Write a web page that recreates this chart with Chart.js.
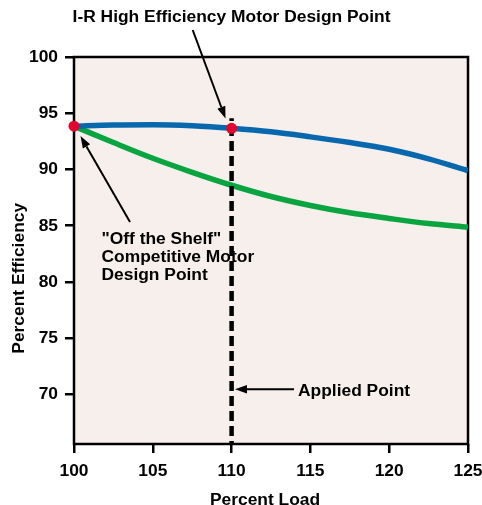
<!DOCTYPE html>
<html>
<head>
<meta charset="utf-8">
<script src="https://cdn.jsdelivr.net/npm/chart.js@4"></script>
<style>
html,body{margin:0;padding:0;background:#fff;}
#wrap{width:482px;height:505px;position:relative;}
</style>
</head>
<body>
<div id="wrap"><canvas id="c" width="482" height="505"></canvas></div>
<script>
// ---- data ----
const loads      = [100, 102.5, 105, 107.5, 110, 112.5, 115, 117.5, 120, 122.5, 125];
const irEff      = [93.85, 93.95, 93.97, 93.88, 93.66, 93.35, 92.9, 92.4, 91.8, 90.95, 89.9];
const shelfEff   = [93.85, 92.4, 91.0, 89.75, 88.6, 87.6, 86.8, 86.15, 85.65, 85.2, 84.88];
const designLoads = [100, 110];
const designEff   = [93.85, 93.66];
const appliedLoad = 110;
const appliedSpan = [94.55, 65.6];
const xTicks = [100, 105, 110, 115, 120, 125];
const yTicks = [70, 75, 80, 85, 90, 95, 100];
const yMin = 65.6, yMax = 100;

const FAMILY = '"Liberation Sans", Arial, sans-serif';
const FSIZE = 17.4;
const FONT = 'bold ' + FSIZE + 'px ' + FAMILY;

function pts(xs, ys){ return xs.map((x,i)=>({x:x, y:ys[i]})); }

function arrow(ctx, x1, y1, x2, y2){
  const ang = Math.atan2(y2-y1, x2-x1);
  const hl = 12, hw = 4.2;
  const bx = x2 - hl*Math.cos(ang), by = y2 - hl*Math.sin(ang);
  ctx.beginPath();
  ctx.moveTo(x1,y1); ctx.lineTo(bx,by);
  ctx.lineWidth = 2; ctx.strokeStyle = '#000'; ctx.stroke();
  ctx.beginPath();
  ctx.moveTo(x2,y2);
  ctx.lineTo(bx + hw*Math.sin(ang), by - hw*Math.cos(ang));
  ctx.lineTo(bx - hw*Math.sin(ang), by + hw*Math.cos(ang));
  ctx.closePath(); ctx.fillStyle = '#000'; ctx.fill();
}

const bgPlugin = {
  id:'bg',
  beforeDatasetsDraw(chart){
    const {ctx, chartArea:a} = chart;
    ctx.save();
    ctx.fillStyle = '#f6efec';
    ctx.fillRect(a.left, a.top, a.right-a.left, a.bottom-a.top);
    ctx.lineWidth = 2.5; ctx.strokeStyle = '#000';
    ctx.strokeRect(a.left, a.top, a.right-a.left, a.bottom-a.top);
    ctx.restore();
  },
  afterDraw(chart){
    const ctx = chart.ctx;
    ctx.save();
    ctx.fillStyle = '#000';
    ctx.font = FONT;
    ctx.textBaseline = 'alphabetic';
    ctx.textAlign = 'center';
    ctx.fillText('I-R High Efficiency Motor Design Point', 231.5, 21.5);
    ctx.fillText('Percent Load', 265, 505);
    ctx.textAlign = 'left';
    ctx.fillText('"Off the Shelf"', 101.5, 243.5);
    ctx.fillText('Competitive Motor', 101.5, 261.5);
    ctx.fillText('Design Point', 101.5, 279.5);
    ctx.fillText('Applied Point', 298, 395.5);
    ctx.save();
    ctx.translate(23.5, 278.3);
    ctx.rotate(-Math.PI/2);
    ctx.textAlign = 'center';
    ctx.fillText('Percent Efficiency', 0, 0);
    ctx.restore();
    arrow(ctx, 192.7, 30, 225.5, 118.5);
    arrow(ctx, 130, 222, 80.5, 136);
    arrow(ctx, 294, 389.3, 235, 389.3);
    ctx.restore();
  }
};

new Chart(document.getElementById('c'), {
  type:'scatter',
  data:{
    datasets:[
      { data: pts(designLoads, designEff), showLine:false, pointRadius:5.5,
        pointBackgroundColor:'#e2062f', pointBorderWidth:0, clip:false, order:0 },
      { data: [{x:appliedLoad, y:appliedSpan[0]}, {x:appliedLoad, y:appliedSpan[1]}],
        showLine:true, borderColor:'#000', borderWidth:4.5, borderDash:[10,5], borderDashOffset:7.3,
        borderCapStyle:'butt', pointRadius:0, order:1 },
      { data: pts(loads, irEff), showLine:true, borderColor:'#0868ae', borderWidth:5.5,
        cubicInterpolationMode:'monotone', pointRadius:0, clip:0, order:2 },
      { data: pts(loads, shelfEff), showLine:true, borderColor:'#0aa540', borderWidth:5.5,
        cubicInterpolationMode:'monotone', pointRadius:0, clip:0, order:3 }
    ]
  },
  options:{
    responsive:false, animation:false, devicePixelRatio:1,
    layout:{ padding:{ top:57, right:14, left:0, bottom:0 } },
    plugins:{ legend:{display:false}, tooltip:{enabled:false}, title:{display:false} },
    scales:{
      x:{
        type:'linear', min:xTicks[0], max:xTicks[xTicks.length-1],
        afterFit(s){ s.height = 61; s.paddingLeft = 0; s.paddingRight = 0; },
        afterBuildTicks(s){ s.ticks = xTicks.map(v=>({value:v})); },
        border:{display:false},
        grid:{ drawOnChartArea:false, drawTicks:true, tickLength:9, color:'#000', lineWidth:2.5 },
        ticks:{ color:'#000', padding:8, maxRotation:0, autoSkip:false,
          font:{ family:FAMILY, weight:'bold', size:FSIZE } }
      },
      y:{
        type:'linear', min:yMin, max:yMax,
        afterFit(s){ s.width = 74; s.paddingTop = 0; s.paddingBottom = 0; },
        afterBuildTicks(s){ s.ticks = yTicks.map(v=>({value:v})); },
        border:{display:false},
        grid:{ drawOnChartArea:false, drawTicks:true, tickLength:9, color:'#000', lineWidth:2.5 },
        ticks:{ color:'#000', padding:7, autoSkip:false,
          font:{ family:FAMILY, weight:'bold', size:FSIZE } }
      }
    }
  },
  plugins:[bgPlugin]
});
</script>
</body>
</html>
